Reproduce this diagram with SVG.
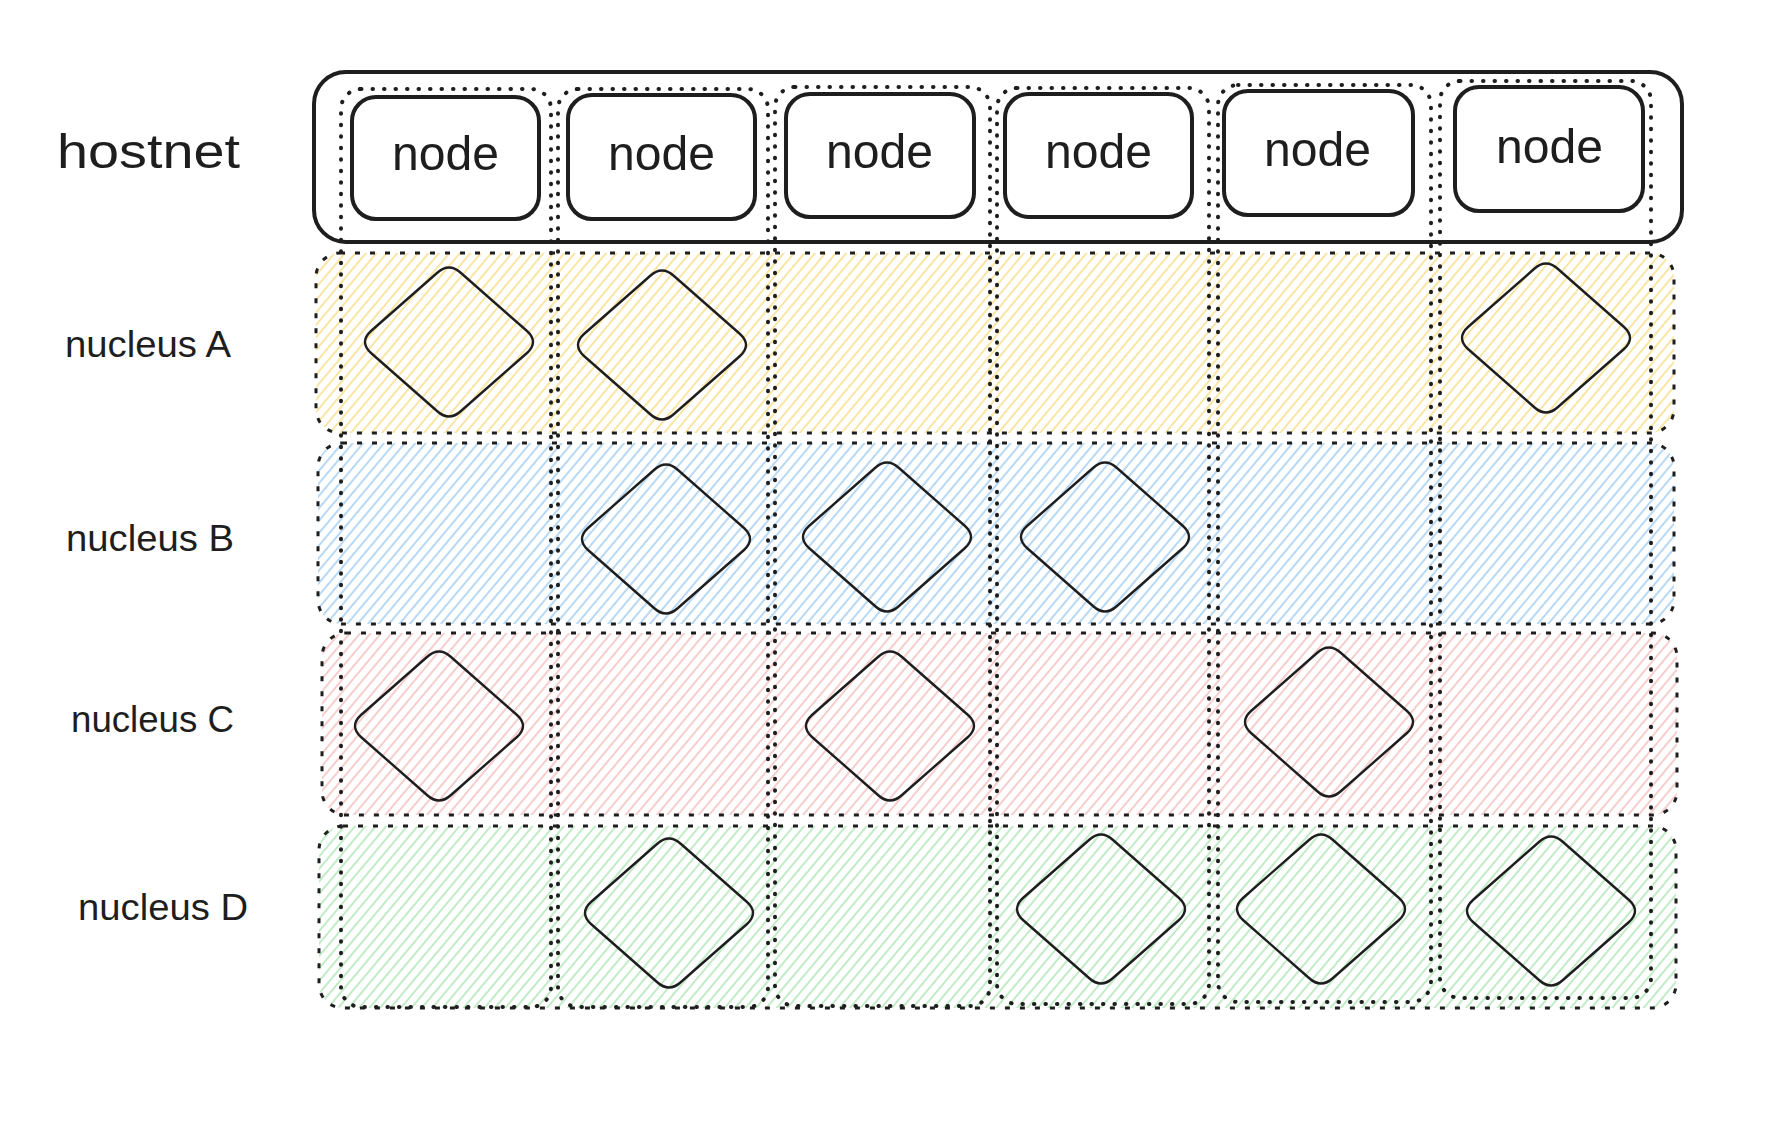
<svg xmlns="http://www.w3.org/2000/svg" xmlns:xlink="http://www.w3.org/1999/xlink" width="1792" height="1122" viewBox="0 0 1792 1122">
<style>
.row{stroke:#1e1e1e;stroke-width:3;stroke-dasharray:5 10;}
.col{fill:none;stroke:#1e1e1e;stroke-width:4;stroke-dasharray:0.5 11;stroke-linecap:round;}
.host{fill:none;stroke:#1e1e1e;stroke-width:4;}
.node{fill:#ffffff;stroke:#1e1e1e;stroke-width:4;}
.dm{fill:none;stroke:#1e1e1e;stroke-width:2.4;}
.lbl{font-family:"Liberation Sans",Arial,sans-serif;fill:#1e1e1e;}
.big{font-size:48px;}
.small{font-size:36px;}
</style>
<defs>
<pattern id="hY" patternUnits="userSpaceOnUse" width="8" height="8" patternTransform="rotate(40)"><line x1="3" y1="0" x2="3" y2="8" stroke="#f8da7c" stroke-width="1.4"/></pattern>
<pattern id="hB" patternUnits="userSpaceOnUse" width="8" height="8" patternTransform="rotate(40)"><line x1="3" y1="0" x2="3" y2="8" stroke="#99c9f3" stroke-width="1.4"/></pattern>
<pattern id="hR" patternUnits="userSpaceOnUse" width="8" height="8" patternTransform="rotate(40)"><line x1="3" y1="0" x2="3" y2="8" stroke="#f4b8b8" stroke-width="1.4"/></pattern>
<pattern id="hG" patternUnits="userSpaceOnUse" width="8" height="8" patternTransform="rotate(40)"><line x1="3" y1="0" x2="3" y2="8" stroke="#a6e4af" stroke-width="1.4"/></pattern>
<path id="dm" d="M 12,-69 L 78,-11 Q 90,0 78,11 L 12,69 Q 0,80 -12,69 L -78,11 Q -90,0 -78,-11 L -12,-69 Q 0,-80 12,-69 Z"/>
</defs>
<rect width="1792" height="1122" fill="#ffffff"/>

<g id="rows">
<g id="nucleus-A"><rect class="row" x="316" y="253" width="1358" height="180" rx="24" fill="url(#hY)"/></g>
<g id="nucleus-B"><rect class="row" x="318" y="443" width="1356" height="181" rx="24" fill="url(#hB)"/></g>
<g id="nucleus-C"><rect class="row" x="322" y="633" width="1355" height="182" rx="24" fill="url(#hR)"/></g>
<g id="nucleus-D"><rect class="row" x="319" y="826" width="1357" height="182" rx="24" fill="url(#hG)"/></g>
</g>

<g id="columns">
<g id="column-1"><rect class="col" x="341" y="89" width="210" height="918" rx="20"/></g>
<g id="column-2"><rect class="col" x="558" y="89" width="210" height="918" rx="20"/></g>
<g id="column-3"><rect class="col" x="775" y="87" width="215" height="919" rx="20"/></g>
<g id="column-4"><rect class="col" x="997" y="88" width="212" height="916" rx="20"/></g>
<g id="column-5"><rect class="col" x="1218" y="85" width="213" height="917" rx="20"/></g>
<g id="column-6"><rect class="col" x="1440" y="81" width="211" height="917" rx="20"/></g>
</g>

<g id="hostnet"><rect class="host" x="314" y="72" width="1368" height="170" rx="32"/></g>

<g id="nodes">
<g id="node-1"><rect class="node" x="352" y="97" width="187" height="122" rx="24"/><text class="lbl big" x="392" y="170" textLength="107" lengthAdjust="spacingAndGlyphs">node</text></g>
<g id="node-2"><rect class="node" x="568" y="95" width="187" height="124" rx="24"/><text class="lbl big" x="608" y="170" textLength="107" lengthAdjust="spacingAndGlyphs">node</text></g>
<g id="node-3"><rect class="node" x="786" y="94" width="188" height="123" rx="24"/><text class="lbl big" x="826" y="168" textLength="107" lengthAdjust="spacingAndGlyphs">node</text></g>
<g id="node-4"><rect class="node" x="1005" y="94" width="187" height="123" rx="24"/><text class="lbl big" x="1045" y="168" textLength="107" lengthAdjust="spacingAndGlyphs">node</text></g>
<g id="node-5"><rect class="node" x="1224" y="91" width="189" height="124" rx="24"/><text class="lbl big" x="1264" y="166" textLength="107" lengthAdjust="spacingAndGlyphs">node</text></g>
<g id="node-6"><rect class="node" x="1455" y="87" width="188" height="124" rx="24"/><text class="lbl big" x="1496" y="163" textLength="107" lengthAdjust="spacingAndGlyphs">node</text></g>
</g>

<g id="diamonds">
<g id="A-1"><use xlink:href="#dm" class="dm" x="449" y="342"/></g>
<g id="A-2"><use xlink:href="#dm" class="dm" x="662" y="345"/></g>
<g id="A-6"><use xlink:href="#dm" class="dm" x="1546" y="338"/></g>
<g id="B-2"><use xlink:href="#dm" class="dm" x="666" y="539"/></g>
<g id="B-3"><use xlink:href="#dm" class="dm" x="887" y="537"/></g>
<g id="B-4"><use xlink:href="#dm" class="dm" x="1105" y="537"/></g>
<g id="C-1"><use xlink:href="#dm" class="dm" x="439" y="726"/></g>
<g id="C-3"><use xlink:href="#dm" class="dm" x="890" y="726"/></g>
<g id="C-5"><use xlink:href="#dm" class="dm" x="1329" y="722"/></g>
<g id="D-2"><use xlink:href="#dm" class="dm" x="669" y="913"/></g>
<g id="D-4"><use xlink:href="#dm" class="dm" x="1101" y="909"/></g>
<g id="D-5"><use xlink:href="#dm" class="dm" x="1321" y="909"/></g>
<g id="D-6"><use xlink:href="#dm" class="dm" x="1551" y="911"/></g>
</g>

<g id="labels">
<text id="label-hostnet" class="lbl big" x="57" y="168" textLength="183" lengthAdjust="spacingAndGlyphs">hostnet</text>
<text id="label-A" class="lbl small" x="65" y="357" textLength="166" lengthAdjust="spacingAndGlyphs">nucleus A</text>
<text id="label-B" class="lbl small" x="66" y="551" textLength="168" lengthAdjust="spacingAndGlyphs">nucleus B</text>
<text id="label-C" class="lbl small" x="71" y="732" textLength="163" lengthAdjust="spacingAndGlyphs">nucleus C</text>
<text id="label-D" class="lbl small" x="78" y="920" textLength="170" lengthAdjust="spacingAndGlyphs">nucleus D</text>
</g>

<g id="connectors"/>
</svg>
